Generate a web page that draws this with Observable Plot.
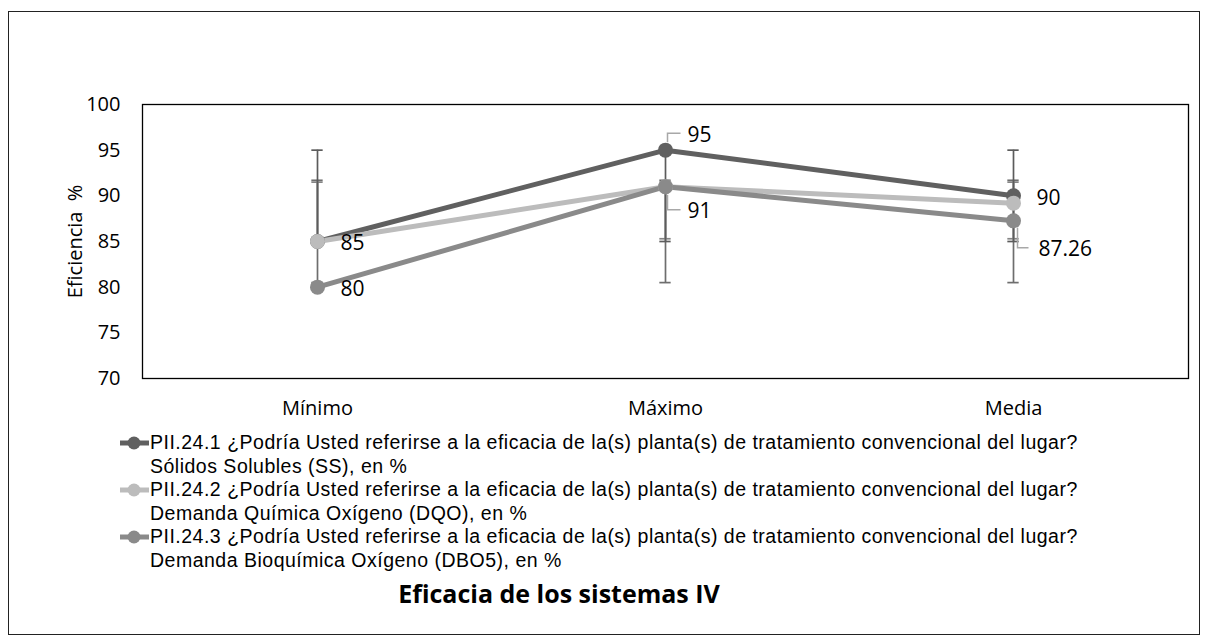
<!DOCTYPE html>
<html><head><meta charset="utf-8">
<script src="https://cdn.jsdelivr.net/npm/d3@7"></script>
<script src="https://cdn.jsdelivr.net/npm/@observablehq/plot@0.6"></script>
<style>
body{margin:0;background:#fff;font-family:"Open Sans",sans-serif;color:#000;width:1208px;height:638px;position:relative;overflow:hidden;}
#border{position:absolute;left:8px;top:11px;width:1192px;height:624px;border:1.5px solid #222;box-sizing:border-box;}
#chart{position:absolute;left:0;top:0;}
.leg{position:absolute;left:118px;font-family:"Liberation Sans",Arial,sans-serif;font-size:19.5px;letter-spacing:0.5px;line-height:23.5px;white-space:nowrap;}
.leg svg{position:absolute;left:0;top:0;}
.leg div{margin-left:32px;}
#title{position:absolute;left:0;width:1118px;text-align:center;top:576px;font-size:25px;font-weight:bold;}
</style></head><body>
<div id="border"></div>
<div id="chart"></div>
<div id="legend"></div>
<div id="title">Eficacia de los sistemas IV</div>
<script>
const categories = ["Mínimo", "Máximo", "Media"];
const seriesNames = [
  ["PII.24.1 ¿Podría Usted referirse a la eficacia de la(s) planta(s) de tratamiento convencional del lugar?", "Sólidos Solubles (SS), en %"],
  ["PII.24.2 ¿Podría Usted referirse a la eficacia de la(s) planta(s) de tratamiento convencional del lugar?", "Demanda Química Oxígeno (DQO), en %"],
  ["PII.24.3 ¿Podría Usted referirse a la eficacia de la(s) planta(s) de tratamiento convencional del lugar?", "Demanda Bioquímica Oxígeno (DBO5), en %"]
];
const seriesKeys = ["SS", "DQO", "DBO5"];
const valuesSS = [85, 95, 90];
const valuesDQO = [85, 91, 89.2];
const valuesDBO5 = [80, 91, 87.26];
const errLow = [85, 85.3, 80.5];
const errHigh = [95, 91.5, 91.7];
const colors = ["#606060", "#bcbcbc", "#8a8a8a"];
const errColors = ["#5c5c5c", "#858585", "#6e6e6e"];
const yTicks = [70, 75, 80, 85, 90, 95, 100];
const labelSeries = ["SS", "DBO5"];
const labelPlacement = {SS: ["right", "above", "right"], DBO5: ["right", "below", "below"]};

const seriesValues = [valuesSS, valuesDQO, valuesDBO5];
const rows = [];
seriesKeys.forEach((k, si) => categories.forEach((c, ci) => rows.push({series: k, cat: c, value: seriesValues[si][ci], lo: errLow[si], hi: errHigh[si], place: labelPlacement[k] ? labelPlacement[k][ci] : null})));
const labels = rows.filter(d => labelSeries.includes(d.series));
const fmt = v => String(v);

const leaderUp = {draw(ctx){ctx.moveTo(2,-8);ctx.lineTo(2,-17);ctx.lineTo(15,-17);}};
const leaderDown = {draw(ctx){ctx.moveTo(2,8);ctx.lineTo(2,23);ctx.lineTo(15,23);}};
const leaderDown2 = {draw(ctx){ctx.moveTo(4,7);ctx.lineTo(4,27);ctx.lineTo(15,27);}};

const W = 1208, ML = 142, MR = 20;
const capInset = ((W - ML - MR) / categories.length - 12) / 2;
const errMarks = [2, 1, 0].flatMap(si => {
  const d = rows.filter(r => r.series === seriesKeys[si]);
  const s = {stroke: errColors[si], strokeWidth: 1.7};
  return [
    Plot.ruleX(d, {x: "cat", y1: "lo", y2: "hi", ...s}),
    Plot.tickY(d, {x: "cat", y: "lo", insetLeft: capInset, insetRight: capInset, ...s}),
    Plot.tickY(d, {x: "cat", y: "hi", insetLeft: capInset, insetRight: capInset, ...s})
  ];
});
const leaderStyle = {stroke: "#a8a8a8", fill: "none", strokeWidth: 1.5};
const plot = Plot.plot({
  width: W, height: 423,
  marginLeft: ML, marginRight: MR, marginTop: 104, marginBottom: 45,
  style: {fontFamily: "'Open Sans', sans-serif", fontSize: "20px", color: "#000", background: "transparent"},
  x: {type: "band", domain: categories, padding: 0},
  y: {domain: [70, 100]},
  color: {domain: seriesKeys, range: colors},
  marks: [
    Plot.axisY({ticks: yTicks, tickSize: 0, tickPadding: 22, label: null, fontSize: 20}),
    Plot.axisX({tickSize: 0, tickPadding: 22, label: null, fontSize: 20}),
    Plot.text(["Eficiencia\u00a0 %"], {frameAnchor: "left", rotate: -90, dx: -67, textAnchor: "middle", fontSize: 20}),
    ...errMarks,
    Plot.line(rows, {x: "cat", y: "value", z: "series", stroke: "series", strokeWidth: 5}),
    Plot.dot(rows, {x: "cat", y: "value", fill: "series", r: 7.5}),
    Plot.dot(labels.filter(d => d.place === "above"), {x: "cat", y: "value", symbol: leaderUp, ...leaderStyle}),
    Plot.dot(labels.filter(d => d.place === "below" && d.cat === "Máximo"), {x: "cat", y: "value", symbol: leaderDown, ...leaderStyle}),
    Plot.dot(labels.filter(d => d.place === "below" && d.cat === "Media"), {x: "cat", y: "value", symbol: leaderDown2, ...leaderStyle}),
    Plot.text(labels.filter(d => d.place === "right"), {x: "cat", y: "value", text: d => fmt(d.value), dx: 23, dy: 2, textAnchor: "start", fontSize: 21}),
    Plot.text(labels.filter(d => d.place === "above"), {x: "cat", y: "value", text: d => fmt(d.value), dx: 22, dy: -15, textAnchor: "start", fontSize: 21}),
    Plot.text(labels.filter(d => d.place === "below" && d.cat === "Máximo"), {x: "cat", y: "value", text: d => fmt(d.value), dx: 22, dy: 25, textAnchor: "start", fontSize: 21}),
    Plot.text(labels.filter(d => d.place === "below" && d.cat === "Media"), {x: "cat", y: "value", text: d => fmt(d.value), dx: 25, dy: 28, textAnchor: "start", fontSize: 21}),
    Plot.frame({stroke: "#000", strokeWidth: 1.3})
  ]
});
document.getElementById("chart").append(plot);

const legend = document.getElementById("legend");
const legTops = [431, 478, 525];
seriesNames.forEach((lines, i) => {
  const el = document.createElement("div");
  el.className = "leg";
  el.style.top = legTops[i] + "px";
  el.innerHTML = `<svg width="34" height="24"><line x1="2" x2="31" y1="12" y2="12" stroke="${colors[i]}" stroke-width="5"/><circle cx="16" cy="12" r="6.5" fill="${colors[i]}"/></svg>` +
    lines.map(t => `<div>${t}</div>`).join("");
  legend.append(el);
});
</script>
</body></html>
